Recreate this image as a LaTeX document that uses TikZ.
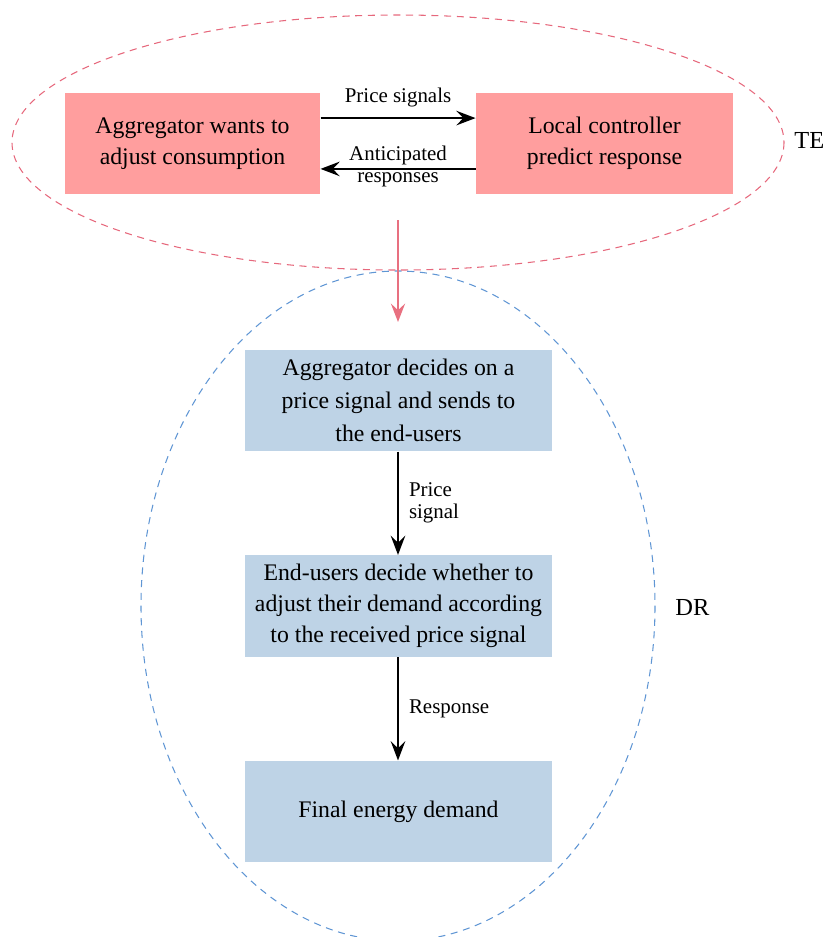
\documentclass[tikz,border=0pt]{standalone}
\usepackage{fontspec}
\setmainfont{Liberation Serif}
\usetikzlibrary{arrows.meta}
\definecolor{pinkfill}{RGB}{255,158,158}
\definecolor{bluefill}{RGB}{190,211,230}
\definecolor{teline}{RGB}{230,104,124}
\definecolor{drline}{RGB}{96,150,212}
\definecolor{pinkarrow}{RGB}{232,112,128}
\tikzset{
  pinkbox/.style={fill=pinkfill, inner sep=0pt, align=center, minimum height=42.9pt,
    font=\fontsize{10.1}{13.3}\selectfont},
  bluebox/.style={fill=bluefill, inner sep=0pt, align=center, minimum width=130.5pt, minimum height=43pt,
    font=\fontsize{10.1}{13.3}\selectfont},
  blackarrow/.style={draw=black, line width=0.85pt, -{Stealth[length=8.2pt, width=6.2pt, inset=3pt]}},
  pinkflow/.style={draw=pinkarrow, line width=1pt, -{Stealth[length=7.8pt, width=6pt, inset=2.8pt]}},
  edgelabel/.style={font=\fontsize{8.9}{9.3}\selectfont, inner sep=0pt},
  grouplabel/.style={font=\fontsize{10.4}{13}\selectfont, inner sep=0pt, anchor=base west},
  teellipse/.style={draw=teline, line width=0.45pt, dash pattern=on 3pt off 2.4pt},
  drellipse/.style={draw=drline, line width=0.45pt, dash pattern=on 3pt off 2.4pt}
}
\begin{document}
\begin{tikzpicture}[x=0.425pt, y=-0.425pt]
\useasboundingbox (0,0) rectangle (824,937);
% group ellipses
\draw[drellipse] (398,606) ellipse [x radius=257, y radius=335];
\draw[teellipse] (398,142.5) ellipse [x radius=386, y radius=127.5];
\node[grouplabel] (te) at (794,148) {TE};
\node[grouplabel] (dr) at (675,615) {DR};
% boxes
\node[pinkbox, minimum width=108.4pt] (agg) at (192.5,143.5) {Aggregator wants to\\adjust consumption};
\node[pinkbox, minimum width=109.2pt] (loc) at (604.5,143.5) {Local controller\\predict response};
\node[bluebox, font=\fontsize{10.1}{14}\selectfont] (dec) at (398.5,400.5) {Aggregator decides on a\\price signal and sends to\\the end-users};
\node[bluebox] (usr) at (398.5,606) {End-users decide whether to\\adjust their demand according\\to the received price signal};
\node[bluebox] (fin) at (398.5,811.5) {Final energy demand};
% connectors
\draw[blackarrow] ([yshift=10.8pt]agg.east) -- node[edgelabel, above=4.2pt] {Price signals} ([yshift=10.8pt]loc.west);
\draw[blackarrow] ([yshift=-10.8pt]loc.west) -- node[edgelabel, align=center, yshift=1pt] {Anticipated\\responses} ([yshift=-10.8pt]agg.east);
\coordinate (teout) at (398,220);
\coordinate (drin) at (398,322);
\draw[pinkflow] (teout) -- (drin);
\draw[blackarrow] (dec.south -| teout) -- node[edgelabel, align=left, anchor=west, xshift=4.25pt] {Price\\signal} (usr.north -| teout);
\draw[blackarrow] (usr.south -| teout) -- node[edgelabel, anchor=west, xshift=4.25pt] {Response} (fin.north -| teout);
\end{tikzpicture}
\end{document}
